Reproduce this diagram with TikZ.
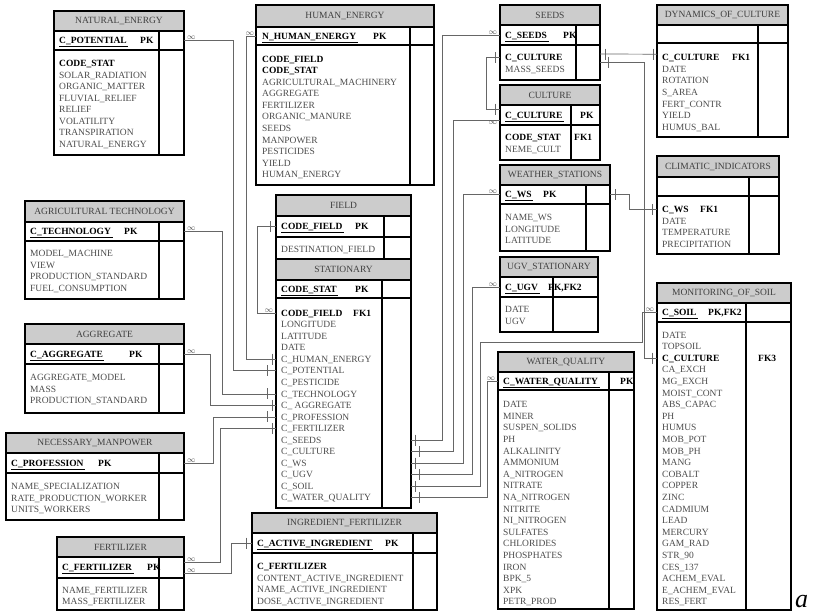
\documentclass[tikz,border=0pt]{standalone}
\usepackage{fontspec}
\setmainfont{Liberation Serif}
\usetikzlibrary{calc}

\newcommand\tblfont{\fontsize{9.5}{11.55}\selectfont}
\newcommand\bo[1]{\textcolor{black}{\textbf{#1}}}
\newcommand\fk[3]{\makebox[#3pt][l]{\bo{#1}}\bo{#2}}
\newcommand\pk[1]{\underline{\textbf{#1}\,}}

\tikzset{
  tblhead/.style={draw, line width=1.1pt, fill=gray!40, text=black!75, font=\tblfont,
    anchor=north west, inner sep=0pt, outer sep=0pt},
  tblbox/.style={draw, line width=1.1pt, anchor=north west, inner sep=0pt, outer sep=0pt},
  tblline/.style={line width=1.1pt},
  keytxt/.style={font=\tblfont\bfseries, anchor=west, inner sep=0pt, text height=6.3pt, text depth=0pt},
  attr/.style={font=\tblfont, text=black!70, anchor=west, inner sep=0pt, text height=6.3pt, text depth=0pt},
  conn/.style={draw=black!60, line width=0.7pt},
  many/.style={font=\fontsize{8}{8}\selectfont, text=black!70, inner sep=0pt, outer sep=0pt},
}

% id, left, top, right, head bottom, key bottom, bottom, divider, title
\newcommand\ertable[9]{%
  \node[tblhead, minimum width=#4pt-#2pt, minimum height=#5pt-#3pt] (#1) at (#2,#3) {#9};
  \node[tblbox, minimum width=#4pt-#2pt, minimum height=#6pt-#5pt] (#1-k) at (#2,#5) {};
  \node[tblbox, minimum width=#4pt-#2pt, minimum height=#7pt-#6pt] (#1-b) at (#2,#6) {};
  \draw[tblline] (#8,#5) -- (#8,#7);
}
\newcommand\keyrow[6]{%
  \node[keytxt] (#1-key) at (#2,#4) {\pk{#5}};
  \node[keytxt] (#1-tag) at (#3,#4) {#6};
}
\newcommand\attrs[5][11.55]{%
  \foreach \lbl [count=\i] in {#5} {\node[attr] (#2-\i) at (#3,{#4+(\i-1)*#1}) {\lbl};}
}
\newcommand\onemark[2]{\draw[conn] ([xshift=#2]#1) ++(0,-5.5) -- ++(0,11);}

\begin{document}
\begin{tikzpicture}[x=1pt,y=-1pt]
\useasboundingbox (0,0) rectangle (813,613);

\ertable{ne}{54}{11}{184}{31}{50}{155}{159}{NATURAL\_ENERGY}
\keyrow{ne}{59}{140}{40.5}{C\_POTENTIAL}{PK}
\attrs{ne}{59}{63.5}{\bo{CODE\_STAT}, SOLAR\_RADIATION, ORGANIC\_MATTER, FLUVIAL\_RELIEF,
  RELIEF, VOLATILITY, TRANSPIRATION, NATURAL\_ENERGY}

\ertable{he}{256}{5}{434}{27}{45}{185}{410}{HUMAN\_ENERGY}
\keyrow{he}{262}{373}{36}{N\_HUMAN\_ENERGY}{PK}
\attrs{he}{262}{59}{\bo{CODE\_FIELD}, \bo{CODE\_STAT}, AGRICULTURAL\_MACHINERY, AGGREGATE,
  FERTILIZER, ORGANIC\_MANURE, SEEDS, MANPOWER, PESTICIDES, YIELD, HUMAN\_ENERGY}

\ertable{se}{500}{5}{600}{25}{45}{80}{576}{SEEDS}
\keyrow{se}{505}{563}{35}{C\_SEEDS}{PK}
\attrs{se}{505}{57.5}{\bo{C\_CULTURE}, MASS\_SEEDS}

\ertable{cu}{500}{85}{600}{105}{125}{160}{571}{CULTURE}
\keyrow{cu}{505}{580}{115}{C\_CULTURE}{PK}
\attrs{cu}{505}{137.5}{\fk{CODE\_STAT}{FK1}{69}, NEME\_CULT}

\ertable{ws}{500}{165}{610}{185}{204}{251}{586}{WEATHER\_STATIONS}
\keyrow{ws}{505}{543}{194.5}{C\_WS}{PK}
\attrs{ws}{505}{217.5}{NAME\_WS, LONGITUDE, LATITUDE}

\ertable{ug}{500}{257}{598}{277}{297}{332}{553}{UGV\_STATIONARY}
\keyrow{ug}{505}{548}{287}{C\_UGV}{PK,FK2}
\attrs{ug}{505}{309.5}{DATE, UGV}

\ertable{dc}{657}{5}{788}{25}{43}{137}{758}{DYNAMICS\_OF\_CULTURE}
\attrs{dc}{662}{57.7}{\fk{C\_CULTURE}{FK1}{70}, DATE, ROTATION, S\_AREA, FERT\_CONTR, YIELD, HUMUS\_BAL}

\ertable{ci}{657}{156}{779}{177}{196}{254}{749}{CLIMATIC\_INDICATORS}
\attrs{ci}{662}{209.5}{\fk{C\_WS}{FK1}{38}, DATE, TEMPERATURE, PRECIPITATION}

\ertable{ms}{657}{283}{791}{303}{322}{610}{746}{MONITORING\_OF\_SOIL}
\keyrow{ms}{662}{708}{312.5}{C\_SOIL}{PK,FK2}
\attrs[11.6]{ms}{662}{335}{DATE, TOPSOIL, \fk{C\_CULTURE}{FK3}{96}, CA\_EXCH, MG\_EXCH, MOIST\_CONT,
  ABS\_CAPAC, PH, HUMUS, MOB\_POT, MOB\_PH, MANG, COBALT, COPPER, ZINC, CADMIUM, LEAD,
  MERCURY, GAM\_RAD, STR\_90, CES\_137, ACHEM\_EVAL, E\_ACHEM\_EVAL, RES\_FERT}

\ertable{wq}{498}{352}{634}{372}{390}{609}{609}{WATER\_QUALITY}
\keyrow{wq}{503}{620}{381}{C\_WATER\_QUALITY}{PK}
\attrs[11.6]{wq}{503}{404.5}{DATE, MINER, SUSPEN\_SOLIDS, PH, ALKALINITY, AMMONIUM, A\_NITROGEN,
  NITRATE, NA\_NITROGEN, NITRITE, NI\_NITROGEN, SULFATES, CHLORIDES, PHOSPHATES, IRON,
  BPK\_5, XPK, PETR\_PROD}

\ertable{fi}{276}{195}{411}{216}{237}{259}{384}{FIELD}
\keyrow{fi}{281}{355}{226.5}{CODE\_FIELD}{PK}
\attrs{fi}{281}{249}{DESTINATION\_FIELD}

\ertable{st}{276}{259}{411}{280}{298}{508}{382}{STATIONARY}
\keyrow{st}{281}{355}{289}{CODE\_STAT}{PK}
\attrs{st}{281}{313}{\fk{CODE\_FIELD}{FK1}{72}, LONGITUDE, LATITUDE, DATE, C\_HUMAN\_ENERGY,
  C\_POTENTIAL, C\_PESTICIDE, C\_TECHNOLOGY, C\_ AGGREGATE, C\_PROFESSION, C\_FERTILIZER,
  C\_SEEDS, C\_CULTURE, C\_WS, C\_UGV, C\_SOIL, C\_WATER\_QUALITY}

\ertable{ing}{252}{513}{437}{533}{553}{610}{413}{INGREDIENT\_FERTILIZER}
\keyrow{ing}{257}{385}{543}{C\_ACTIVE\_INGREDIENT}{PK}
\attrs{ing}{257}{566.7}{\bo{C\_FERTILIZER}, CONTENT\_ACTIVE\_INGREDIENT, NAME\_ACTIVE\_INGREDIENT,
  DOSE\_ACTIVE\_INGREDIENT}

\ertable{agt}{25}{201}{184}{222}{241}{299}{159}{AGRICULTURAL TECHNOLOGY}
\keyrow{agt}{30}{124}{231.5}{C\_TECHNOLOGY}{PK}
\attrs{agt}{30}{253.3}{MODEL\_MACHINE, VIEW, PRODUCTION\_STANDARD, FUEL\_CONSUMPTION}

\ertable{ag}{25}{324}{184}{344}{364}{413}{159}{AGGREGATE}
\keyrow{ag}{30}{129}{354}{C\_AGGREGATE}{PK}
\attrs{ag}{30}{377.3}{AGGREGATE\_MODEL, MASS, PRODUCTION\_STANDARD}

\ertable{mp}{6}{433}{184}{453}{473}{520}{159}{NECESSARY\_MANPOWER}
\keyrow{mp}{11}{98}{463}{C\_PROFESSION}{PK}
\attrs{mp}{11}{486.7}{NAME\_SPECIALIZATION, RATE\_PRODUCTION\_WORKER, UNITS\_WORKERS}

\ertable{fe}{57}{537}{184}{557}{578}{610}{159}{FERTILIZER}
\keyrow{fe}{62}{147}{567.5}{C\_FERTILIZER}{PK}
\attrs{fe}{62}{590}{NAME\_FERTILIZER, MASS\_FERTILIZER}

% connection points
\foreach \r in {1,5,6,8,9,10,11} \coordinate (stl-\r) at (st-b.west |- st-\r);
\foreach \r in {12,...,17} \coordinate (str-\r) at (st-b.east |- st-\r);
\coordinate (se-l) at (se-b.west |- se-1);
\coordinate (se-r) at (se-b.east |- se-1);
\coordinate (dc-l) at (dc-b.west |- dc-1);
\coordinate (ci-l) at (ci-b.west |- ci-1);
\coordinate (ms-l) at (ms-b.west |- ms-3);
\coordinate (fe-up) at ([yshift=5.5pt]fe-k.east);
\coordinate (fe-lo) at ([yshift=-5.5pt]fe-k.east);
\coordinate (cu-up) at ([yshift=6pt]cu-k.west);
\coordinate (cu-lo) at ([yshift=-5pt]cu-k.west);
\coordinate (se-up) at ([yshift=3.5pt]se-r);
\coordinate (se-lo) at ([yshift=-4.5pt]se-r);
\coordinate (dc-up) at ([yshift=3.5pt]dc-l);

% left side of STATIONARY
\draw[conn] (ne-k.east) -- ++(49,0) |- (stl-6);
\draw[conn] (he-k.west) -- ++(-10,0) |- (stl-5);
\draw[conn] (fi-k.west) -- ++(-19,0) |- (stl-1);
\draw[conn] (agt-k.east) -- ++(38,0) |- (stl-8);
\draw[conn] (ag-k.east) -- ++(26,0) |- (stl-9);
\draw[conn] (mp-k.east) -- ++(29,0) |- (stl-10);
\draw[conn] (fe-up) -- ++(36,0) |- (stl-11);
\draw[conn] (fe-lo) -- ++(47,0) |- (ing-k.west);

% right side of STATIONARY
\draw[conn] (se-k.west) -- ++(-58,0) |- (str-12);
\draw[conn] (cu-lo) -- ++(-47,0) |- (str-13);
\draw[conn] (ws-k.west) -- ++(-37,0) |- (str-14);
\draw[conn] (ug-k.west) -- ++(-28,0) |- (str-15);
\draw[conn] (ms-k.west) -- ++(-15,0) |- ++(-162,30) |- (str-16);
\draw[conn] (wq-k.west) -- ++(-11,0) |- (str-17);

\draw[conn] (se-l) -- ++(-14,0) |- (cu-up);
\draw[conn] (se-up) -- (dc-up);
\draw[conn] (se-lo) -- ++(44,0) |- (ms-l);
\draw[conn] (ws-k.east) -- ++(19,0) |- (ci-l);

% many ends
\node[many, anchor=south west, xshift=3pt, yshift=1pt] (m-ne) at (ne-k.east) {$\infty$};
\node[many, anchor=south east, xshift=-2pt, yshift=1pt] (m-he) at (he-k.west) {$\infty$};
\node[many, anchor=south east, xshift=-3pt, yshift=1pt] (m-st) at (stl-1) {$\infty$};
\node[many, anchor=south west, xshift=3pt, yshift=1pt] (m-agt) at (agt-k.east) {$\infty$};
\node[many, anchor=south west, xshift=3pt, yshift=1pt] (m-ag) at (ag-k.east) {$\infty$};
\node[many, anchor=south west, xshift=3pt, yshift=1pt] (m-mp) at (mp-k.east) {$\infty$};
\node[many, anchor=south west, xshift=3pt, yshift=1pt] (m-fe1) at (fe-up) {$\infty$};
\node[many, anchor=south west, xshift=3pt, yshift=1pt] (m-fe2) at (fe-lo) {$\infty$};
\node[many, anchor=south east, xshift=-3pt, yshift=1pt] (m-se) at (se-k.west) {$\infty$};
\node[many, anchor=north east, xshift=-3pt, yshift=-1pt] (m-cu) at (cu-lo) {$\infty$};
\node[many, anchor=south east, xshift=-3pt, yshift=1pt] (m-ws) at (ws-k.west) {$\infty$};
\node[many, anchor=south east, xshift=-3pt, yshift=1pt] (m-ug) at (ug-k.west) {$\infty$};
\node[many, anchor=south east, xshift=-3pt, yshift=1pt] (m-ms) at (ms-k.west) {$\infty$};
\node[many, anchor=south east, xshift=-3pt, yshift=1pt] (m-wq) at (wq-k.west) {$\infty$};

% one ends
\onemark{stl-5}{-4pt}
\onemark{stl-6}{-9pt}
\onemark{stl-8}{-9pt}
\onemark{stl-9}{-4pt}
\onemark{stl-10}{-9pt}
\onemark{stl-11}{-4pt}
\onemark{fi-k.west}{-6pt}
\onemark{ing-k.west}{-6pt}
\onemark{str-12}{4pt}
\onemark{str-13}{8pt}
\onemark{str-14}{4pt}
\onemark{str-15}{8pt}
\onemark{str-16}{4pt}
\onemark{str-17}{8pt}
\onemark{se-l}{-5pt}
\onemark{cu-up}{-5pt}
\onemark{se-up}{5pt}
\onemark{dc-up}{-4pt}
\onemark{se-lo}{8pt}
\onemark{ms-l}{-5pt}
\onemark{ws-k.east}{5pt}
\onemark{ci-l}{-5pt}

\node[font=\fontsize{26}{26}\selectfont\itshape, anchor=base west, inner sep=0pt] (lbl-a) at (795,607) {a};
\end{tikzpicture}
\end{document}
